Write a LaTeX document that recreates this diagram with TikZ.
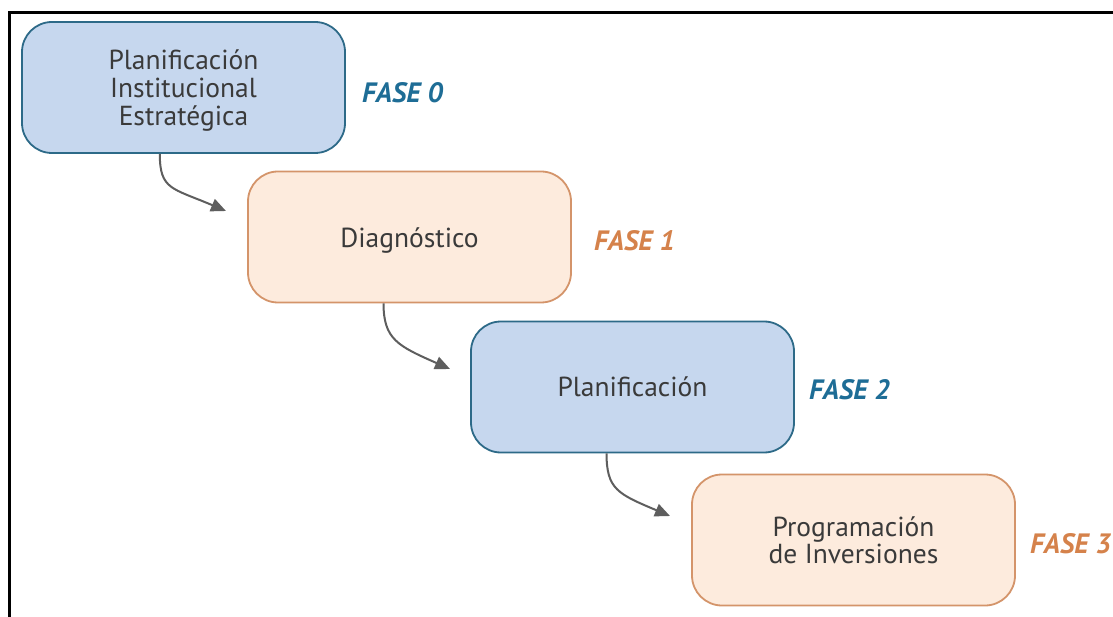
\documentclass[tikz,border=0pt]{standalone}
\usepackage{fontspec}
\setmainfont{PT Sans}
\usetikzlibrary{arrows.meta,calc}
\definecolor{bluefill}{HTML}{C6D7EE}
\definecolor{blueline}{HTML}{2D6A88}
\definecolor{peachfill}{HTML}{FDEBDD}
\definecolor{peachline}{HTML}{D4946A}
\definecolor{fasblue}{HTML}{1E6D96}
\definecolor{fasorange}{HTML}{D5824B}
\definecolor{txt}{HTML}{3A3A3A}
\definecolor{arr}{HTML}{5E5E5E}
\newcommand{\lowertext}[2]{\raisebox{-#1}[\height][\depth]{\begin{tabular}{@{}c@{}}#2\end{tabular}}}
\tikzset{
  phase/.style={rounded corners=30pt, line width=1.8pt, minimum width=323pt, minimum height=131pt, align=center, text=txt, font=\fontsize{27.5}{27}\selectfont, inner sep=0pt},
  bluebox/.style={phase, draw=blueline, fill=bluefill},
  peachbox/.style={phase, draw=peachline, fill=peachfill},
  faselbl/.style={font=\fontsize{28}{28}\selectfont\bfseries\itshape, anchor=west, inner sep=0pt},
  flow/.style={draw=arr, line width=2pt, -{Triangle[length=15pt,width=13pt]}}
}
\begin{document}
\begin{tikzpicture}[x=1pt,y=-1pt]
\useasboundingbox (0,0) rectangle (1113,617);
\fill[white] (0,0) rectangle (1113,617);
\draw[line width=3pt, black] (1113,13) -- (9,13) -- (9,617);

\node[bluebox]  (b0) at (183.5,87.5) {\lowertext{4pt}{Planificación\\Institucional\\Estratégica}};
\node[peachbox] (b1) at (409.5,237)  {\lowertext{5pt}{Diagnóstico}};
\node[bluebox]  (b2) at (632.5,387)  {Planificación};
\node[peachbox] (b3) at (853.5,540)  {Programación\\de Inversiones};

\node[faselbl, text=fasblue]   (f0) at (362,93)  {FASE 0};
\node[faselbl, text=fasorange] (f1) at (594,241) {FASE 1};
\node[faselbl, text=fasblue]   (f2) at (809,390) {FASE 2};
\node[faselbl, text=fasorange] (f3) at (1030,544) {FASE 3};

\coordinate (e1) at (226,211);
\coordinate (e2) at (450,369);
\coordinate (e3) at (670,516);

\draw[flow] ($(b0.south west)!0.427!(b0.south east)$) .. controls +(0,36) and (172,188) .. (e1);
\draw[flow] ($(b1.south west)!0.42!(b1.south east)$) .. controls +(0,36) and (398,346) .. (e2);
\draw[flow] ($(b2.south west)!0.42!(b2.south east)$) .. controls +(0,36) and (618,494) .. (e3);
\end{tikzpicture}
\end{document}
